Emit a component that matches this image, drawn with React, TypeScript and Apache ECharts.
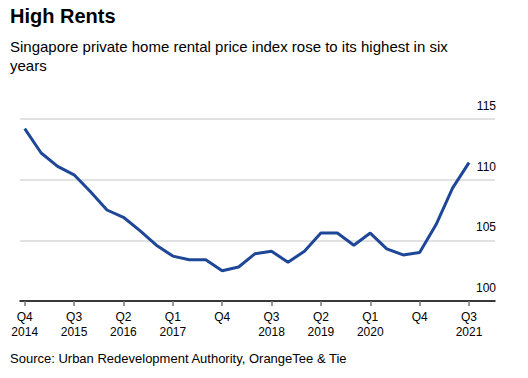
import React, { useEffect, useRef } from "react";
import * as echarts from "echarts";

const TITLE = "High Rents";
const SUBTITLE = "Singapore private home rental price index rose to its highest in six\nyears";
const SOURCE = "Source: Urban Redevelopment Authority, OrangeTee & Tie";

// Quarterly, Q4 2014 .. Q3 2021
const quarters = [
  "Q4 2014",
  "Q1 2015", "Q2 2015", "Q3 2015", "Q4 2015",
  "Q1 2016", "Q2 2016", "Q3 2016", "Q4 2016",
  "Q1 2017", "Q2 2017", "Q3 2017", "Q4 2017",
  "Q1 2018", "Q2 2018", "Q3 2018", "Q4 2018",
  "Q1 2019", "Q2 2019", "Q3 2019", "Q4 2019",
  "Q1 2020", "Q2 2020", "Q3 2020", "Q4 2020",
  "Q1 2021", "Q2 2021", "Q3 2021",
];
const rentIndex = [
  114.2,
  112.2, 111.1, 110.4, 109.0,
  107.5, 106.9, 105.8, 104.6,
  103.7, 103.4, 103.4, 102.5,
  102.8, 103.9, 104.1, 103.2,
  104.1, 105.6, 105.6, 104.6,
  105.6, 104.3, 103.8, 104.0,
  106.3, 109.3, 111.4,
];
const tickIndices = [0, 3, 6, 9, 12, 15, 18, 21, 24, 27];
const tickLabels = [
  "Q4\n2014", "Q3\n2015", "Q2\n2016", "Q1\n2017", "Q4",
  "Q3\n2018", "Q2\n2019", "Q1\n2020", "Q4", "Q3\n2021",
];
const yTicks = [100, 105, 110, 115];

const FONT = "'Liberation Sans', Arial, sans-serif";

export default function App() {
  const ref = useRef<HTMLDivElement>(null);
  useEffect(() => {
    if (!ref.current) return;
    const chart = echarts.init(ref.current, null, { renderer: "svg" });
    const data = rentIndex.map((v, i) => [i, v]);
    chart.setOption({
      animation: false,
      backgroundColor: "#ffffff",
      textStyle: { fontFamily: FONT },
      grid: { left: 20, right: 33, top: 119, bottom: 77 },
      xAxis: {
        type: "value",
        min: -0.286,
        max: 28.58,
        splitLine: { show: false },
        axisLine: { show: true, lineStyle: { color: "#000", width: 1.5 } },
        axisTick: {
          show: true,
          customValues: tickIndices,
          length: 5,
          lineStyle: { color: "#777", width: 1.5 },
        },
        axisLabel: {
          customValues: tickIndices,
          formatter: (v: number) => {
            const k = tickIndices.indexOf(Math.round(v));
            return k >= 0 ? tickLabels[k] : "";
          },
          color: "#000",
          fontSize: 12,
          lineHeight: 15,
          margin: 8,
          fontFamily: FONT,
        },
      },
      yAxis: {
        type: "value",
        position: "right",
        min: yTicks[0],
        max: yTicks[yTicks.length - 1],
        interval: 5,
        axisLine: { show: false },
        axisTick: { show: false },
        splitLine: { show: true, lineStyle: { color: "#e2e2e2", width: 2 } },
        axisLabel: {
          inside: true,
          margin: -1,
          align: "right",
          verticalAlign: "bottom",
          padding: [0, 0, 7, 0],
          color: "#000",
          fontSize: 12,
          fontFamily: FONT,
        },
      },
      series: [
        {
          type: "line",
          data,
          showSymbol: false,
          symbol: "none",
          lineStyle: { color: "#1e4797", width: 3 },
          z: 5,
        },
      ],
      graphic: [
        {
          type: "text",
          left: 10,
          top: 6,
          style: {
            text: TITLE,
            font: `bold 20px ${FONT}`,
            fill: "#000",
          },
        },
        {
          type: "text",
          left: 10,
          top: 37,
          style: {
            text: SUBTITLE,
            font: `15px ${FONT}`,
            lineHeight: 19,
            fill: "#000",
          },
        },
        {
          type: "text",
          left: 10,
          top: 352,
          style: {
            text: SOURCE,
            font: `13px ${FONT}`,
            fill: "#000",
          },
        },
      ],
    });
    return () => chart.dispose();
  }, []);
  return <div ref={ref} style={{ width: 528, height: 378, margin: -8 }} />;
}
